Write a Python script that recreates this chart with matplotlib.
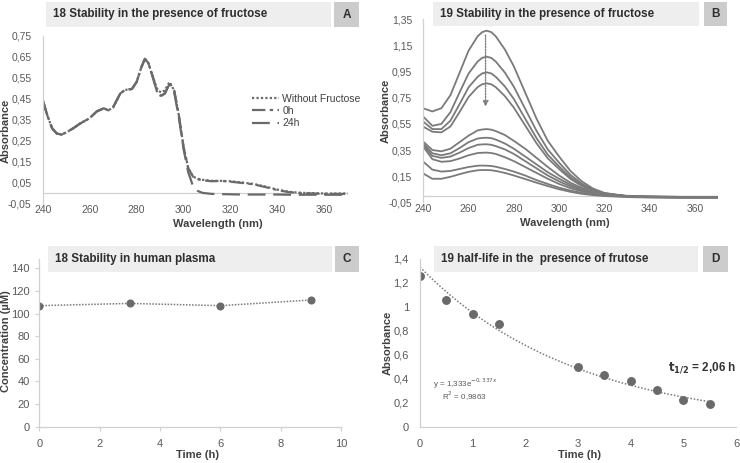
import matplotlib
matplotlib.use("Agg")
import matplotlib.pyplot as plt
import numpy as np
from matplotlib.patches import Rectangle
from matplotlib.ticker import FuncFormatter

plt.rcParams['font.family'] = ['Liberation Sans', 'DejaVu Sans']

# ---------------- Panel A data ----------------
wl_a = [240, 242, 244, 246, 248, 250, 253, 256, 260, 263, 266, 268, 270, 273, 275, 278, 280, 282,
        283.5, 285, 287, 289, 290.5, 292, 294, 296, 298, 300, 302, 304, 306, 308, 312, 316, 320,
        325, 330, 335, 340, 345, 350, 360, 370]
a_without = [0.445, 0.37, 0.31, 0.285, 0.28, 0.29, 0.31, 0.333, 0.358, 0.39, 0.405, 0.395, 0.41,
             0.475, 0.492, 0.497, 0.53, 0.60, 0.64, 0.62, 0.55, 0.49, 0.48, 0.49, 0.53, 0.49, 0.37,
             0.22, 0.12, 0.08, 0.07, 0.065, 0.06, 0.06, 0.058, 0.052, 0.045, 0.032, 0.018, 0.008,
             0.003, 0.0, 0.0]
a_0h = [0.445, 0.37, 0.31, 0.285, 0.28, 0.29, 0.31, 0.333, 0.358, 0.39, 0.405, 0.395, 0.41,
        0.475, 0.492, 0.497, 0.53, 0.60, 0.64, 0.62, 0.55, 0.47, 0.465, 0.475, 0.525, 0.49, 0.37,
        0.22, 0.12, 0.08, 0.068, 0.063, 0.058, 0.06, 0.056, 0.05, 0.043, 0.03, 0.016, 0.006,
        0.002, -0.002, -0.002]
a_24h = [0.445, 0.37, 0.31, 0.285, 0.28, 0.29, 0.31, 0.333, 0.358, 0.39, 0.405, 0.395, 0.41,
         0.475, 0.492, 0.497, 0.53, 0.60, 0.64, 0.62, 0.55, 0.47, 0.465, 0.475, 0.52, 0.48, 0.36,
         0.21, 0.10, 0.035, 0.012, 0.003, -0.002, -0.003, -0.004, -0.005, -0.005, -0.005,
         -0.005, -0.006, -0.006, -0.006, -0.006]
a_labels = ["Without Fructose", "0h", "24h"]

# ---------------- Panel B data ----------------
wl_b = [240, 244, 248, 252, 256, 260, 264, 266, 268, 270, 272, 276, 280, 285, 290, 295, 300, 305,
        310, 315, 320, 330, 340, 355, 370]
b_curves = [
    [0.669, 0.645, 0.67, 0.77, 0.94, 1.11, 1.22, 1.252, 1.263, 1.252, 1.22, 1.12, 0.99, 0.79, 0.59,
     0.42, 0.30, 0.19, 0.11, 0.055, 0.022, -0.003, -0.008, -0.01, -0.01],
    [0.605, 0.535, 0.55, 0.64, 0.79, 0.935, 1.027, 1.055, 1.064, 1.055, 1.027, 0.943, 0.834, 0.665,
     0.497, 0.354, 0.253, 0.16, 0.093, 0.046, 0.019, -0.003, -0.008, -0.01, -0.012],
    [0.567, 0.51, 0.51, 0.575, 0.70, 0.83, 0.91, 0.936, 0.944, 0.936, 0.91, 0.837, 0.74, 0.59,
     0.441, 0.314, 0.224, 0.142, 0.082, 0.041, 0.016, -0.004, -0.009, -0.012, -0.012],
    [0.528, 0.49, 0.485, 0.53, 0.64, 0.756, 0.831, 0.853, 0.86, 0.853, 0.831, 0.763, 0.674, 0.538,
     0.402, 0.286, 0.204, 0.129, 0.075, 0.037, 0.015, -0.004, -0.01, -0.013, -0.013],
    [0.414, 0.35, 0.34, 0.36, 0.41, 0.46, 0.50, 0.507, 0.51, 0.506, 0.495, 0.465, 0.42, 0.36, 0.29,
     0.22, 0.155, 0.10, 0.06, 0.03, 0.012, 0.0, -0.005, -0.008, -0.008],
    [0.40, 0.325, 0.31, 0.325, 0.365, 0.41, 0.438, 0.442, 0.444, 0.441, 0.43, 0.40, 0.36, 0.30,
     0.24, 0.18, 0.13, 0.085, 0.05, 0.025, 0.01, -0.002, -0.006, -0.009, -0.009],
    [0.388, 0.305, 0.29, 0.30, 0.33, 0.365, 0.39, 0.393, 0.394, 0.39, 0.38, 0.355, 0.32, 0.265,
     0.21, 0.155, 0.11, 0.072, 0.042, 0.02, 0.008, -0.003, -0.007, -0.01, -0.01],
    [0.375, 0.28, 0.26, 0.265, 0.285, 0.31, 0.327, 0.329, 0.33, 0.327, 0.32, 0.295, 0.265, 0.22,
     0.175, 0.13, 0.09, 0.058, 0.034, 0.016, 0.006, -0.004, -0.008, -0.011, -0.011],
    [0.26, 0.20, 0.185, 0.19, 0.205, 0.22, 0.23, 0.231, 0.23, 0.228, 0.222, 0.205, 0.185, 0.155,
     0.12, 0.09, 0.062, 0.04, 0.022, 0.01, 0.002, -0.006, -0.01, -0.013, -0.013],
    [0.17, 0.13, 0.13, 0.145, 0.165, 0.183, 0.195, 0.197, 0.197, 0.195, 0.19, 0.175, 0.155, 0.128,
     0.10, 0.074, 0.05, 0.03, 0.015, 0.005, -0.002, -0.01, -0.014, -0.016, -0.016],
]
arrow_x = 267.5
arrow_from, arrow_to = 1.25, 0.66

# ---------------- Panel C data ----------------
c_time = [0, 3, 6, 9]
c_conc = [107, 109, 107, 112]

# ---------------- Panel D data ----------------
d_time = [0, 0.5, 1, 1.5, 3, 3.5, 4, 4.5, 5, 5.5]
d_abs = [1.26, 1.06, 0.94, 0.86, 0.50, 0.43, 0.38, 0.31, 0.22, 0.19]
fit_a, fit_k = 1.333, 0.337

titles = ["18 Stability in the presence of fructose", "19 Stability in the presence of fructose",
          "18 Stability in human plasma", "19 half-life in the  presence of frutose"]
letters = ["A", "B", "C", "D"]

W, H = 740, 463
fig = plt.figure(figsize=(W / 100, H / 100), dpi=100)

def fx(px):
    return px / W

def fy(py):
    return 1 - py / H

def add_axes(l, r, t, b):
    return fig.add_axes([fx(l), fy(b), fx(r) - fx(l), fy(t) - fy(b)])

TICK_C = '#595959'
SPINE_C = '#d0d0d0'
LABEL_C = '#404040'

comma = FuncFormatter(lambda v, p: ('%g' % round(v, 2)).replace('.', ','))

def style(ax, ticklen=0, size=7.5, ypad=7, xpad=3):
    for s in ['top', 'right']:
        ax.spines[s].set_visible(False)
    for s in ['left', 'bottom']:
        ax.spines[s].set_color(SPINE_C)
        ax.spines[s].set_linewidth(0.9)
    ax.tick_params(colors=SPINE_C, labelcolor=TICK_C, labelsize=size, length=ticklen, width=0.8)
    ax.tick_params(axis='y', pad=ypad)
    ax.tick_params(axis='x', pad=xpad)

# ---------- A ----------
axA = add_axes(42.7, 348, 35.7, 204)
axA.plot(wl_a, a_without, color='#6a6a6a', lw=1.6, ls=(0, (1, 1)), label=a_labels[0])
axA.plot(wl_a, a_0h, color='#6a6a6a', lw=1.6, ls=(0, (6, 2, 1.5, 2)), label=a_labels[1])
axA.plot(wl_a, a_24h, color='#6a6a6a', lw=1.6, ls=(0, (8, 3.5)), label=a_labels[2])
axA.set_xlim(240, 370)
axA.set_ylim(-0.05, 0.75)
axA.set_yticks(np.arange(-0.05, 0.76, 0.1))
axA.set_xticks(range(240, 361, 20))
axA.yaxis.set_major_formatter(comma)
style(axA, ypad=8, xpad=1)
axA.spines['bottom'].set_visible(False)
axA.axhline(0, color=SPINE_C, lw=0.9, zorder=0)
leg = axA.legend(loc='upper left', bbox_to_anchor=(fx(252), fy(94)), bbox_transform=fig.transFigure,
                 frameon=False, fontsize=7.5, handlelength=2.6, handletextpad=0.3, labelspacing=0.2,
                 borderpad=0, borderaxespad=0)
for t in leg.get_texts():
    t.set_color('#404040')

# ---------- B ----------
axB = add_axes(423.3, 717.6, 19.3, 202.3)
for cv in b_curves:
    axB.plot(wl_b, cv, color='#7a7a7a', lw=1.3)
axB.annotate('', xy=(arrow_x, arrow_to), xytext=(arrow_x, arrow_from),
             arrowprops=dict(arrowstyle='-|>', color='#808080', lw=1.0, ls=(0, (1, 1)),
                             mutation_scale=8))
axB.set_xlim(240, 370)
axB.set_ylim(-0.05, 1.35)
axB.set_yticks(np.arange(-0.05, 1.36, 0.2))
axB.set_xticks(range(240, 361, 20))
axB.yaxis.set_major_formatter(comma)
style(axB, ypad=8, xpad=1.5)
axB.spines['bottom'].set_visible(False)
axB.axhline(0, color=SPINE_C, lw=0.9, zorder=0)

# ---------- C ----------
axC = add_axes(39.3, 341, 259.3, 426.7)
axC.plot(c_time, c_conc, color='#7a7a7a', lw=1.1, ls=(0, (1, 1)))
axC.plot(c_time, c_conc, 'o', color='#6a6a6a', ms=4.8, lw=0)
axC.set_xlim(0, 10)
axC.set_ylim(0, 148)
axC.set_yticks(range(0, 141, 20))
axC.set_xticks(range(0, 11, 2))
style(axC, ticklen=3, size=8, ypad=4, xpad=6)

# ---------- D ----------
axD = add_axes(420, 736, 259, 426.7)
xf = np.linspace(0, 5.5, 100)
axD.plot(xf, fit_a * np.exp(-fit_k * xf), color='#7a7a7a', lw=1.1, ls=(0, (1, 1.2)))
axD.plot(d_time, d_abs, 'o', color='#6a6a6a', ms=5.4, lw=0)
axD.set_xlim(0, 6)
axD.set_ylim(0, 1.4)
axD.set_yticks(np.arange(0, 1.41, 0.2))
axD.set_xticks(range(0, 7))
axD.yaxis.set_major_formatter(comma)
style(axD, size=8, ypad=8, xpad=9)
axD.text(0.25, 0.36, r'y = 1,333e$^{-0,337x}$', fontsize=5.8, color='#595959', va='center')
axD.text(0.42, 0.25, r'R$^2$ = 0,9863', fontsize=5.8, color='#595959', va='center')
axD.text(4.70, 0.49, r'$\mathbf{t_{1/2}}$ = 2,06 h', fontsize=8.5, fontweight='bold', color='#333333',
         va='center')

# ---------- title boxes ----------
boxes = [(46, 331, 2, 27, 334, 359), (433, 699, 2, 26, 704, 727),
         (48, 332, 246, 272, 335, 359), (434, 698, 246, 272, 703, 728)]
for (x0, x1, y0, y1, lx0, lx1), ttl, let in zip(boxes, titles, letters):
    fig.patches.append(Rectangle((fx(x0), fy(y1)), fx(x1) - fx(x0), fy(y0) - fy(y1),
                                 transform=fig.transFigure, facecolor='#eeeeee', edgecolor='none',
                                 zorder=5))
    fig.patches.append(Rectangle((fx(lx0), fy(y1)), fx(lx1) - fx(lx0), fy(y0) - fy(y1),
                                 transform=fig.transFigure, facecolor='#cccccc', edgecolor='none',
                                 zorder=5))
    fig.text(fx(x0 + 7), fy((y0 + y1) / 2), ttl, fontsize=8.4, fontweight='bold', color='#2e2e2e',
             va='center', ha='left', zorder=6)
    fig.text(fx((lx0 + lx1) / 2), fy((y0 + y1) / 2), let, fontsize=8.5, fontweight='bold',
             color='#2e2e2e', va='center', ha='center', zorder=6)

# ---------- axis labels ----------
lab = dict(fontsize=8, fontweight='bold', color=LABEL_C, ha='center', va='center')
fig.text(fx(6), fy(131), 'Absorbance', rotation=90, **lab)
fig.text(fx(218), fy(224), 'Wavelength (nm)', **lab)
fig.text(fx(386), fy(111), 'Absorbance', rotation=90, **lab)
fig.text(fx(565), fy(223.5), 'Wavelength (nm)', **lab)
fig.text(fx(6), fy(341), 'Concentration (µM)', rotation=90, **lab)
fig.text(fx(198), fy(455), 'Time (h)', **lab)
fig.text(fx(388), fy(343), 'Absorbance', rotation=90, **lab)
fig.text(fx(579), fy(455), 'Time (h)', **lab)

fig.savefig('out.png', dpi=100)
